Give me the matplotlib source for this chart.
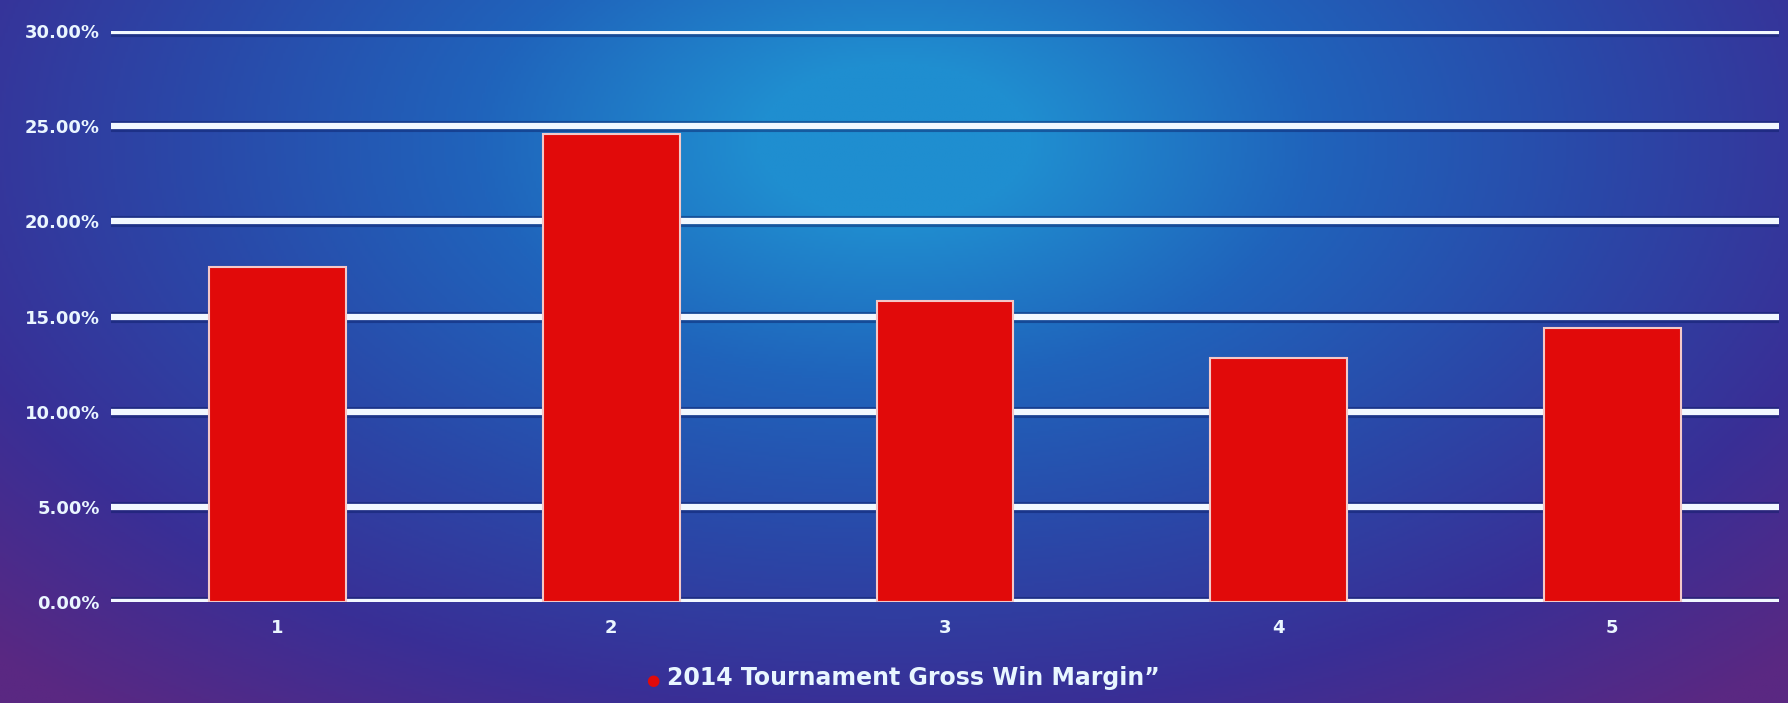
import numpy as np
import matplotlib.pyplot as plt
from matplotlib.colors import LinearSegmentedColormap

categories = ['1', '2', '3', '4', '5']
margin = [17.6, 24.6, 15.8, 12.8, 14.4]
yticks = [0, 5, 10, 15, 20, 25, 30]
ytick_labels = ['0.00%', '5.00%', '10.00%', '15.00%', '20.00%', '25.00%', '30.00%']
series_name = '2014 Tournament Gross Win Margin*'

fig = plt.figure(figsize=(17.88, 7.03), dpi=100)

# projected slide background: cyan glow top-centre, purple towards the edges
bg = fig.add_axes([0, 0, 1, 1], zorder=0)
yy, xx = np.mgrid[0:1:300j, 0:1:700j]
d = np.sqrt(((xx - 0.5) / 0.75) ** 2 + ((yy - 0.2) / 1.1) ** 2)
cmap = LinearSegmentedColormap.from_list(
    'slide', ['#1f8ed0', '#2063bb', '#2a48a8', '#392f96', '#5a2882'])
bg.imshow(d, cmap=cmap, aspect='auto', extent=[0, 1, 1, 0], vmin=0.1, vmax=0.95)
bg.axis('off')

ax = fig.add_axes([0.062, 0.1437, 0.933, 0.812], zorder=1)
ax.patch.set_alpha(0)
x = np.arange(len(categories))

for y in yticks:
    ax.axhline(y, color='#0b1d66', lw=8, alpha=0.45, zorder=1)
    ax.axhline(y, color='#f2f8ff', lw=4.5, zorder=2)

ax.bar(x, margin, width=0.41, color='#e10a0a', edgecolor='#f4c8c8',
       linewidth=1.5, zorder=3, label=series_name)

ax.set_xlim(-0.5, 4.5)
ax.set_ylim(0, 30)
ax.set_yticks(yticks)
ax.set_yticklabels(ytick_labels)
ax.set_xticks(x)
ax.set_xticklabels(categories)
ax.tick_params(axis='both', length=0, colors='#eaf6ff', labelsize=13)
ax.tick_params(axis='y', pad=8)
ax.tick_params(axis='x', pad=12, labelsize=13)
for lab in ax.get_xticklabels() + ax.get_yticklabels():
    lab.set_fontweight('bold')
for s in ax.spines.values():
    s.set_visible(False)

fig.text(0.365, 0.022, '\u25cf', color='#e10a0a', fontsize=11,
         ha='center', va='bottom')
fig.text(0.373, 0.018, series_name.replace('*', '\u201d'), color='#e8f6ff',
         fontsize=17, fontweight='bold', ha='left', va='bottom')

fig.savefig('out.png', dpi=100)
